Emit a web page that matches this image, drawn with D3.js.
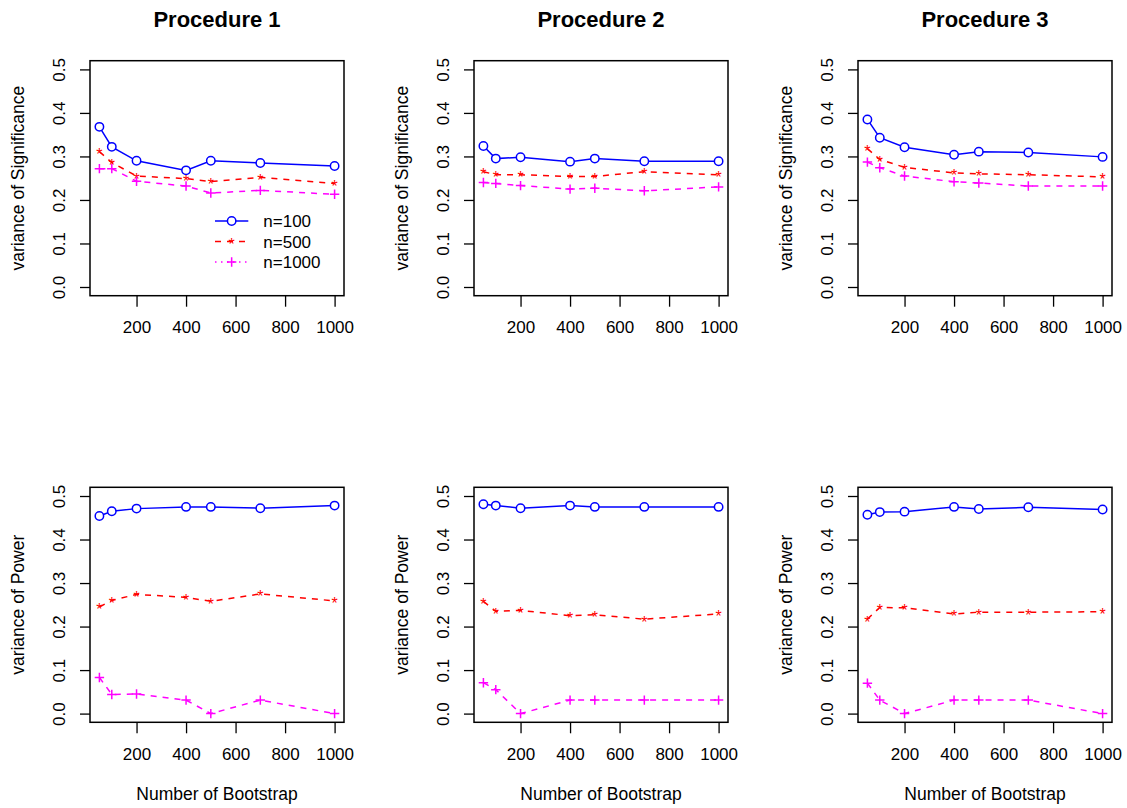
<!DOCTYPE html>
<html>
<head>
<meta charset="utf-8">
<script src="https://cdn.jsdelivr.net/npm/d3@7"></script>
<style>
  body { margin: 0; background: #fff; }
  svg { display: block; }
</style>
</head>
<body>
<script>

let canvasW = 1127;
let canvasH = 808;

// x values shared by every panel
let bootstrap = [50, 100, 200, 400, 500, 700, 1000];

let xTicks = [200, 400, 600, 800, 1000];
let yTicks = [0, 0.1, 0.2, 0.3, 0.4, 0.5];

let procedures = ["Procedure 1", "Procedure 2", "Procedure 3"];
let seriesNames = ["n=100", "n=500", "n=1000"];

// variance of Significance
let sig1_100  = [0.368, 0.322, 0.290, 0.268, 0.290, 0.285, 0.278];
let sig1_500  = [0.311, 0.286, 0.255, 0.249, 0.242, 0.252, 0.238];
let sig1_1000 = [0.272, 0.272, 0.243, 0.232, 0.216, 0.222, 0.213];

let sig2_100  = [0.324, 0.295, 0.298, 0.288, 0.295, 0.289, 0.289];
let sig2_500  = [0.265, 0.258, 0.258, 0.254, 0.254, 0.265, 0.258];
let sig2_1000 = [0.240, 0.238, 0.233, 0.225, 0.227, 0.221, 0.230];

let sig3_100  = [0.385, 0.343, 0.321, 0.304, 0.311, 0.309, 0.299];
let sig3_500  = [0.318, 0.293, 0.275, 0.262, 0.260, 0.258, 0.253];
let sig3_1000 = [0.287, 0.274, 0.255, 0.242, 0.239, 0.232, 0.232];

// variance of Power
let pow1_100  = [0.454, 0.465, 0.471, 0.475, 0.475, 0.472, 0.478];
let pow1_500  = [0.245, 0.260, 0.274, 0.267, 0.258, 0.275, 0.259];
let pow1_1000 = [0.083, 0.044, 0.045, 0.031, 0.000, 0.031, 0.000];

let pow2_100  = [0.481, 0.478, 0.472, 0.478, 0.475, 0.475, 0.475];
let pow2_500  = [0.258, 0.235, 0.237, 0.225, 0.227, 0.217, 0.229];
let pow2_1000 = [0.071, 0.055, 0.000, 0.031, 0.031, 0.031, 0.031];

let pow3_100  = [0.457, 0.463, 0.464, 0.475, 0.470, 0.474, 0.469];
let pow3_500  = [0.217, 0.244, 0.243, 0.229, 0.233, 0.233, 0.234];
let pow3_1000 = [0.070, 0.031, 0.000, 0.031, 0.031, 0.031, 0.000];

let colors = ["#0000ff", "#ff0000", "#ff00ff"];
let dashes = [null, "6,6", "6,6"];
let legendDashes = [null, "6,6", "1.5,4.5"];
let font = "'Liberation Sans', Arial, Helvetica, sans-serif";
let tickFont = "17px";
let labFont = "17.5px";

let panels = [
  { row: 0, col: 0, ylab: "variance of Significance", series: [sig1_100, sig1_500, sig1_1000], legend: true },
  { row: 0, col: 1, ylab: "variance of Significance", series: [sig2_100, sig2_500, sig2_1000] },
  { row: 0, col: 2, ylab: "variance of Significance", series: [sig3_100, sig3_500, sig3_1000] },
  { row: 1, col: 0, ylab: "variance of Power", series: [pow1_100, pow1_500, pow1_1000] },
  { row: 1, col: 1, ylab: "variance of Power", series: [pow2_100, pow2_500, pow2_1000] },
  { row: 1, col: 2, ylab: "variance of Power", series: [pow3_100, pow3_500, pow3_1000] }
];

let boxLefts = [90, 474, 858];
let boxTops = [60.7, 487.3];
let boxW = 254;
let boxH = 235;

let svg = d3.select("body").append("svg")
  .attr("width", canvasW)
  .attr("height", canvasH)
  .style("font-family", font);

panels.forEach(p => {

  let left = boxLefts[p.col];
  let top = boxTops[p.row];

  // R style: 4% padding on each side of the data range
  let x = d3.scaleLinear().domain([12, 1038]).range([left, left + boxW]);
  let y = d3.scaleLinear().domain([-0.02, 0.52]).range([top + boxH, top]);

  let g = svg.append("g");

  // y axis
  let yAxis = g.append("g")
    .attr("transform", "translate(" + left + ",0)")
    .call(d3.axisLeft(y).tickValues(yTicks).tickFormat(d3.format(".1f")).tickSize(10).tickSizeOuter(0));
  yAxis.select(".domain").remove();
  yAxis.selectAll("line").attr("stroke", "#000").attr("stroke-width", 1.3);
  yAxis.selectAll("text")
    .attr("transform", "rotate(-90)")
    .attr("x", 0)
    .attr("y", -25)
    .attr("dy", 0)
    .attr("text-anchor", "middle")
    .attr("fill", "#000")
    .style("font-family", font)
    .style("font-size", tickFont);

  // x axis
  let xAxis = g.append("g")
    .attr("transform", "translate(0," + (top + boxH) + ")")
    .call(d3.axisBottom(x).tickValues(xTicks).tickFormat(d3.format("d")).tickSize(11).tickSizeOuter(0));
  xAxis.select(".domain").remove();
  xAxis.selectAll("line").attr("stroke", "#000").attr("stroke-width", 1.3);
  xAxis.selectAll("text")
    .attr("y", 37.5)
    .attr("dy", 0)
    .attr("fill", "#000")
    .style("font-family", font)
    .style("font-size", tickFont);

  // box
  g.append("rect")
    .attr("x", left)
    .attr("y", top)
    .attr("width", boxW)
    .attr("height", boxH)
    .attr("fill", "none")
    .attr("stroke", "#000")
    .attr("stroke-width", 1.5);

  // y label
  g.append("text")
    .attr("transform", "translate(" + (left - 66) + "," + (top + boxH / 2) + ") rotate(-90)")
    .attr("text-anchor", "middle")
    .style("font-size", labFont)
    .text(p.ylab);

  if (p.row == 0) {
    g.append("text")
      .attr("x", left + boxW / 2)
      .attr("y", 27)
      .attr("text-anchor", "middle")
      .style("font-size", "22px")
      .style("font-weight", "bold")
      .text(procedures[p.col]);
  } else {
    g.append("text")
      .attr("x", left + boxW / 2)
      .attr("y", 800)
      .attr("text-anchor", "middle")
      .style("font-size", labFont)
      .text("Number of Bootstrap");
  }

  let line = d3.line()
    .x((d, i) => x(bootstrap[i]))
    .y(d => y(d));

  p.series.forEach((vals, si) => {
    g.append("path")
      .datum(vals)
      .attr("d", line)
      .attr("fill", "none")
      .attr("stroke", colors[si])
      .attr("stroke-width", 1.5)
      .attr("stroke-dasharray", dashes[si]);

    drawMarkers(g, vals.map((v, i) => [x(bootstrap[i]), y(v)]), si);
  });

  if (p.legend) {
    let lx0 = 215, lx1 = 248.3, tx = 263.3;
    let rowY = [221, 241.5, 262];
    seriesNames.forEach((name, si) => {
      g.append("line")
        .attr("x1", lx0).attr("x2", lx1)
        .attr("y1", rowY[si]).attr("y2", rowY[si])
        .attr("stroke", colors[si])
        .attr("stroke-width", 1.5)
        .attr("stroke-dasharray", legendDashes[si]);
      drawMarkers(g, [[(lx0 + lx1) / 2, rowY[si]]], si);
      g.append("text")
        .attr("x", tx)
        .attr("y", rowY[si] + 6)
        .style("font-size", tickFont)
        .text(name);
    });
  }
});

function drawMarkers(g, pts, si) {
  if (si == 0) {
    g.selectAll(null)
      .data(pts)
      .join("circle")
      .attr("cx", d => d[0])
      .attr("cy", d => d[1])
      .attr("r", 4.2)
      .attr("fill", "#fff")
      .attr("stroke", colors[0])
      .attr("stroke-width", 1.5);
  } else if (si == 1) {
    g.selectAll(null)
      .data(pts)
      .join("text")
      .attr("x", d => d[0])
      .attr("y", d => d[1] + 8.5)
      .attr("text-anchor", "middle")
      .attr("fill", colors[1])
      .style("font-size", "16px")
      .text("*");
  } else {
    let s = 4.7;
    g.selectAll(null)
      .data(pts)
      .join("path")
      .attr("d", d => "M" + (d[0] - s) + "," + d[1] + "H" + (d[0] + s) + "M" + d[0] + "," + (d[1] - s) + "V" + (d[1] + s))
      .attr("stroke", colors[2])
      .attr("stroke-width", 1.5)
      .attr("fill", "none");
  }
}

</script>
</body>
</html>
